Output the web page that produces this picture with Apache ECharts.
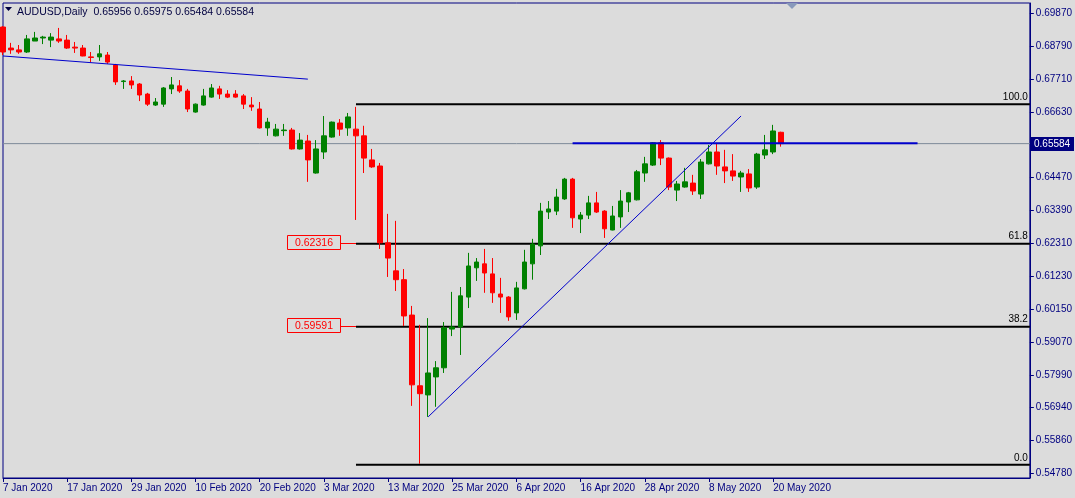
<!DOCTYPE html>
<html><head><meta charset="utf-8">
<script src="https://cdn.jsdelivr.net/npm/echarts@6/dist/echarts.min.js"></script>
<style>html,body{margin:0;padding:0;background:#dcdcdc}#c{width:1075px;height:498px}</style>
</head><body><div id="c"></div>
<script>
const startDate = '2020-01-07', barCount = 98, slotCount = 129;
// candles: [open, close, low, high]
const candles = [
[0.6941,0.6859,0.6849,0.6944],[0.6872,0.6866,0.6853,0.6889],[0.6866,0.6859,0.6853,0.6882],[0.6859,0.6902,0.6856,0.6915],
[0.6895,0.6905,0.6895,0.6925],[0.6905,0.6908,0.6885,0.6912],[0.6898,0.6908,0.6875,0.6921],[0.6902,0.6895,0.6889,0.6938],
[0.6898,0.6872,0.6869,0.6915],[0.6875,0.6872,0.6856,0.6892],[0.6872,0.6846,0.6845,0.6882],[0.6843,0.6841,0.6826,0.6859],
[0.6843,0.6853,0.6830,0.6882],[0.6849,0.6826,0.6820,0.6859],[0.6816,0.6761,0.6751,0.6820],[0.6762,0.6764,0.6738,0.6767],
[0.6764,0.6751,0.6738,0.6780],[0.6754,0.6718,0.6698,0.6757],[0.6721,0.6688,0.6682,0.6725],[0.6685,0.6695,0.6682,0.6708],
[0.6688,0.6741,0.6679,0.6744],[0.6738,0.6751,0.6721,0.6777],[0.6748,0.6731,0.6725,0.6767],[0.6731,0.6672,0.6662,0.6738],
[0.6662,0.6688,0.6660,0.6690],[0.6685,0.6715,0.6683,0.6738],[0.6711,0.6741,0.6709,0.6754],[0.6738,0.6721,0.6705,0.6748],
[0.6721,0.6711,0.6708,0.6734],[0.6721,0.6711,0.6709,0.6734],[0.6715,0.6688,0.6672,0.6721],[0.6685,0.6679,0.6666,0.6711],
[0.6672,0.6610,0.6608,0.6695],[0.6610,0.6629,0.6584,0.6643],[0.6584,0.6606,0.6582,0.6623],[0.6601,0.6603,0.6584,0.6623],
[0.6603,0.6541,0.6539,0.6610],[0.6541,0.6570,0.6539,0.6593],[0.6567,0.6505,0.6433,0.6587],[0.6462,0.6541,0.6460,0.6570],
[0.6531,0.6584,0.6508,0.6649],[0.6580,0.6629,0.6578,0.6631],[0.6626,0.6606,0.6584,0.6639],[0.6610,0.6646,0.6584,0.6659],
[0.6606,0.6584,0.6308,0.6679],[0.6584,0.6511,0.6462,0.6617],[0.6505,0.6482,0.6479,0.6541],[0.6485,0.6233,0.6213,0.6495],
[0.6233,0.6183,0.6121,0.6328],[0.6141,0.6112,0.6075,0.6305],[0.6112,0.5993,0.5960,0.6147],[0.5996,0.5767,0.5698,0.6026],
[0.5764,0.5738,0.5508,0.5964],[0.5734,0.5806,0.5662,0.5986],[0.5793,0.5823,0.5695,0.5845],[0.5823,0.5954,0.5806,0.5973],
[0.5950,0.5957,0.5927,0.6072],[0.5957,0.6059,0.5865,0.6088],[0.6055,0.6157,0.6019,0.6200],[0.6151,0.6170,0.6108,0.6183],
[0.6164,0.6134,0.6069,0.6213],[0.6131,0.6069,0.6036,0.6183],[0.6065,0.6055,0.6003,0.6118],[0.6055,0.5990,0.5977,0.6058],
[0.6003,0.6085,0.5980,0.6105],[0.6082,0.6170,0.6080,0.6210],[0.6164,0.6229,0.6112,0.6246],[0.6223,0.6337,0.6193,0.6364],
[0.6334,0.6344,0.6311,0.6370],[0.6337,0.6383,0.6324,0.6410],[0.6377,0.6442,0.6374,0.6446],[0.6442,0.6315,0.6282,0.6446],
[0.6311,0.6324,0.6265,0.6334],[0.6324,0.6364,0.6311,0.6387],[0.6364,0.6334,0.6331,0.6400],[0.6337,0.6279,0.6249,0.6340],
[0.6275,0.6321,0.6274,0.6354],[0.6318,0.6370,0.6282,0.6406],[0.6367,0.6397,0.6334,0.6400],[0.6374,0.6466,0.6372,0.6472],
[0.6462,0.6492,0.6433,0.6515],[0.6488,0.6561,0.6485,0.6563],[0.6561,0.6511,0.6488,0.6570],[0.6511,0.6416,0.6406,0.6513],
[0.6406,0.6426,0.6370,0.6436],[0.6416,0.6433,0.6414,0.6479],[0.6429,0.6403,0.6390,0.6456],[0.6393,0.6498,0.6377,0.6508],
[0.6492,0.6531,0.6490,0.6554],[0.6531,0.6485,0.6456,0.6561],[0.6482,0.6469,0.6429,0.6538],[0.6469,0.6452,0.6436,0.6524],
[0.6449,0.6462,0.6400,0.6469],[0.6459,0.6413,0.6400,0.6475],[0.6416,0.6524,0.6410,0.6528],[0.6521,0.6538,0.6508,0.6587],
[0.6531,0.6600,0.6524,0.6620],[0.65956,0.65584,0.65484,0.65975]
];
const yTickValues = [0.6987,0.6879,0.6771,0.6663,0.6555,0.6447,0.6339,0.6231,0.6123,0.6015,0.5907,0.5799,0.5694,0.5586,0.5478];
const yTickLabels = ['0.69870','0.68790','0.67710','0.66630','0.65550','0.64470','0.63390','0.62310','0.61230','0.60150','0.59070','0.57990','0.56940','0.55860','0.54780'];
const currentPrice = 0.65584;
const fibStart = 44;
const fibLevels = [0.66880, 0.62300, 0.59578, 0.55045];
const fibNames = ['100.0','61.8','38.2','0.0'];
const fibBoxLevels = [0.62316, 0.59591];
const fibBoxLabels = ['0.62316','0.59591'];
const downTrend = [[0,0.6846],[38,0.6770]];
const upTrend = [[53,0.5662],[92,0.6649]];
const resistance = [[71,0.6560],[114,0.6560]];
const titleText = 'AUDUSD,Daily  0.65956 0.65975 0.65484 0.65584';

const mon = ['Jan','Feb','Mar','Apr','May','Jun','Jul'];
const cats = [];
let d = new Date(startDate+'T00:00:00Z');
while (cats.length < barCount) {
  const w = d.getUTCDay();
  if (w !== 0 && w !== 6) cats.push(d.getUTCDate()+' '+mon[d.getUTCMonth()]+' '+d.getUTCFullYear());
  d = new Date(d.getTime()+86400000);
}
while (cats.length < slotCount) cats.push('');

const NAVY = '#000080';
const fibSeries = fibLevels.map(v => ({type:'line', data:[[fibStart,v],[slotCount-1,v]], symbol:'none', silent:true,
  lineStyle:{color:'#000', width:2}, z:3}));

const chart = echarts.init(document.getElementById('c'));
chart.setOption({
  animation:false, backgroundColor:'#dcdcdc',
  grid:{left:3, right:45, top:3, bottom:20, show:true, borderColor:NAVY, borderWidth:1, backgroundColor:'#dcdcdc'},
  xAxis:{type:'category', data:cats, boundaryGap:false,
    axisLine:{lineStyle:{color:NAVY}},
    axisTick:{length:4, lineStyle:{color:NAVY}, interval:(i)=>i%8===0 && i<barCount},
    axisLabel:{interval:(i)=>i%8===0 && i<barCount, align:'left', margin:5, color:NAVY, fontFamily:'Liberation Sans', fontSize:10},
    splitLine:{show:false}},
  yAxis:{type:'value', position:'right', min:0.54614, max:0.70198, scale:true,
    axisLine:{show:true, lineStyle:{color:NAVY}},
    axisTick:{show:true, length:4, lineStyle:{color:NAVY}, customValues:yTickValues},
    axisLabel:{customValues:yTickValues, margin:6, color:NAVY, fontFamily:'Liberation Sans', fontSize:10,
      formatter:(v)=>{let k=0,b=1;yTickValues.forEach((t,i)=>{if(Math.abs(t-v)<b){b=Math.abs(t-v);k=i;}});return yTickLabels[k];}},
    splitLine:{show:false}},
  series:[
    {type:'line', data:[[0,currentPrice],[slotCount-1,currentPrice]], symbol:'none', silent:true, lineStyle:{color:'#7d8a98', width:1}, z:1},
    ...fibSeries,
    {type:'candlestick', data:candles, barWidth:5, z:5,
      itemStyle:{color:'#008000', color0:'#ff0000', borderColor:'#008000', borderColor0:'#ff0000', borderWidth:1}},
    {type:'line', data:downTrend, symbol:'none', lineStyle:{color:'#0000cc', width:1}, z:6},
    {type:'line', data:upTrend, symbol:'none', lineStyle:{color:'#0000cc', width:1}, z:6},
    {type:'line', data:resistance, symbol:'none', lineStyle:{color:'#0000cc', width:2}, z:6}
  ]
});

const g = [];
const px = (i,v)=>chart.convertToPixel({xAxisIndex:0,yAxisIndex:0},[i,v]);
const rightX = px(slotCount-1, 0)[0];
fibLevels.forEach((v,k)=>{
  const p = px(0,v);
  g.push({type:'text', x:rightX-2, y:p[1]-2, style:{text:fibNames[k], align:'right', verticalAlign:'bottom', fill:'#000', font:'10px Liberation Sans'}});
});
fibBoxLevels.forEach((v,k)=>{
  const p = px(fibStart,v);
  g.push({type:'rect', shape:{x:287.5, y:Math.round(p[1])-7.5, width:53, height:14}, style:{fill:'#dcdcdc', stroke:'#ff0000', lineWidth:1}});
  g.push({type:'line', shape:{x1:340, y1:Math.round(p[1])+0.5, x2:p[0], y2:Math.round(p[1])+0.5}, style:{stroke:'#ff0000', lineWidth:1}});
  g.push({type:'text', x:314, y:Math.round(p[1]), style:{text:fibBoxLabels[k], align:'center', verticalAlign:'middle', fill:'#ff0000', font:'10.5px Liberation Sans'}});
});
const cp = px(0,currentPrice);
g.push({type:'rect', z:100, shape:{x:1031, y:Math.round(cp[1])-7, width:43, height:14}, style:{fill:NAVY}});
g.push({type:'text', z:101, x:1034, y:Math.round(cp[1]), style:{text:currentPrice.toFixed(5), verticalAlign:'middle', fill:'#fff', font:'10px Liberation Sans'}});
g.push({type:'polygon', shape:{points:[[5,7],[12,7],[8.5,11]]}, style:{fill:'#000040'}});
g.push({type:'text', x:17, y:12, style:{text:titleText, verticalAlign:'middle', fill:'#000040', font:'10.5px Liberation Sans'}});
g.push({type:'polygon', shape:{points:[[786,3],[798,3],[792,9]]}, style:{fill:'#8899bb'}});
chart.setOption({graphic:{elements:g}});
</script></body></html>
